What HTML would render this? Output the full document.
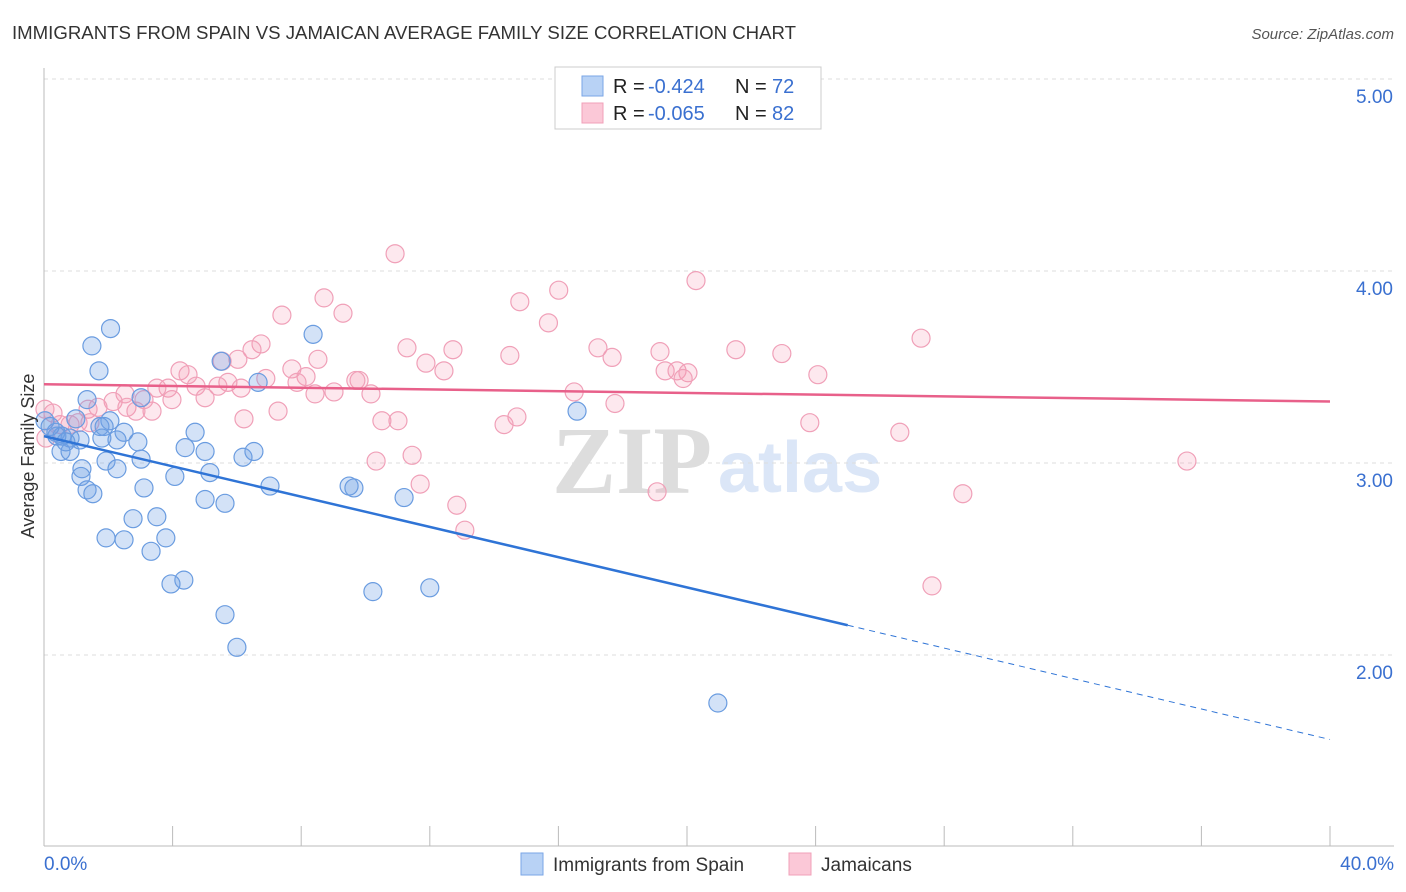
<!DOCTYPE html>
<html><head><meta charset="utf-8"><style>
body{margin:0;background:#fff;font-family:"Liberation Sans",sans-serif;}
svg{display:block}
</style></head><body>
<svg id="c" width="1406" height="892" xmlns="http://www.w3.org/2000/svg">
<text x="12" y="39" font-size="18" fill="#333" textLength="784" lengthAdjust="spacingAndGlyphs">IMMIGRANTS FROM SPAIN VS JAMAICAN AVERAGE FAMILY SIZE CORRELATION CHART</text>
<text x="1394" y="39" font-size="15" fill="#555" font-style="italic" text-anchor="end">Source: ZipAtlas.com</text>
<g>
<text x="552" y="493" font-size="96" fill="#ddd" font-family="Liberation Serif" font-weight="bold">ZIP</text>
<text x="718" y="492" font-size="72" fill="#dbe6f7" font-weight="bold">atlas</text>
</g>
<g id="grid"></g><g id="axes"></g><g id="pts"></g><g id="lines"></g>
<text transform="translate(34,456) rotate(-90)" font-size="18" fill="#333" text-anchor="middle">Average Family Size</text>
<g>
<rect x="555" y="67" width="266" height="62" fill="#fff" stroke="#ccc"/>
<rect x="582" y="76" width="21" height="20" fill="#b8d2f5" stroke="#7aa6e6"/>
<rect x="582" y="103" width="21" height="20" fill="#fbc8d7" stroke="#f0a0b8"/>
<g font-size="20">
<text x="613" y="93" fill="#222">R =</text><text x="648" y="93" fill="#3a70d0">-0.424</text>
<text x="735" y="93" fill="#222">N =</text><text x="772" y="93" fill="#3a70d0">72</text></g>
<g font-size="20">
<text x="613" y="120" fill="#222">R =</text><text x="648" y="120" fill="#3a70d0">-0.065</text>
<text x="735" y="120" fill="#222">N =</text><text x="772" y="120" fill="#3a70d0">82</text></g>
</g>
<g>
<rect x="521" y="853" width="22" height="22" fill="#b8d2f5" stroke="#7aa6e6"/>
<text x="553" y="871" font-size="19" fill="#333">Immigrants from Spain</text>
<rect x="789" y="853" width="22" height="22" fill="#fbc8d7" stroke="#f0a0b8"/>
<text x="821" y="871" font-size="19" fill="#333">Jamaicans</text>
</g>
</svg>
<script>
const yTicks=[5,4,3,2];
const yTickLabels=["5.00","4.00","3.00","2.00"];
const xTickLabels=["0.0%","40.0%"];
const blueX=[2.07,1.49,1.71,5.51,8.37,6.66,1.34,3.02,16.58,0.99,2.05,0.03,1.74,0.37,1.87,2.49,0.56,0.81,1.80,2.92,2.27,4.70,4.39,5.01,0.53,0.81,3.02,1.93,6.19,6.53,1.18,2.27,1.15,5.16,4.07,7.03,3.11,1.34,1.52,9.49,9.64,5.01,5.63,11.20,2.77,3.51,1.93,2.49,3.79,3.33,4.35,3.95,10.23,12.00,5.63,6.00,20.96,0.40,0.19,0.68,1.12];
const blueY=[3.70,3.61,3.48,3.53,3.67,3.42,3.33,3.34,3.27,3.23,3.22,3.22,3.19,3.16,3.19,3.16,3.14,3.13,3.13,3.11,3.12,3.16,3.08,3.06,3.06,3.06,3.02,3.01,3.03,3.06,2.97,2.97,2.93,2.95,2.93,2.88,2.87,2.86,2.84,2.88,2.87,2.81,2.79,2.82,2.71,2.72,2.61,2.60,2.61,2.54,2.39,2.37,2.33,2.35,2.21,2.04,1.75,3.14,3.19,3.11,3.12];
const pinkX=[10.92,8.71,14.80,16.01,20.28,9.30,7.40,15.69,27.28,6.75,6.47,11.29,12.72,17.23,14.49,17.67,19.16,21.52,22.95,8.52,6.03,11.88,12.44,4.23,5.54,7.71,4.48,8.15,19.32,19.69,20.03,19.88,24.07,9.80,9.70,7.87,6.90,3.86,4.73,3.51,5.72,5.41,6.13,9.02,10.17,8.43,5.01,2.52,3.98,16.49,3.11,2.15,1.68,2.58,3.36,7.28,2.86,1.37,0.28,1.06,6.22,11.01,10.51,14.71,14.31,23.82,26.62,17.76,11.45,10.33,35.55,19.07,28.58,11.70,12.84,13.09,27.62,0.03,0.50,0.81,1.43,0.06];
const pinkY=[4.09,3.86,3.84,3.90,3.95,3.78,3.77,3.73,3.65,3.62,3.59,3.60,3.59,3.60,3.56,3.55,3.58,3.59,3.57,3.54,3.54,3.52,3.48,3.48,3.53,3.49,3.46,3.45,3.48,3.48,3.47,3.44,3.46,3.43,3.43,3.42,3.44,3.39,3.40,3.39,3.42,3.40,3.39,3.37,3.36,3.36,3.34,3.36,3.33,3.37,3.33,3.32,3.29,3.29,3.27,3.27,3.27,3.28,3.26,3.21,3.23,3.22,3.22,3.24,3.20,3.21,3.16,3.31,3.04,3.01,3.01,2.85,2.84,2.89,2.78,2.65,2.36,3.28,3.20,3.20,3.21,3.13];
const blueFit=[3.14,2.155,1.56];const blueFitX=[0,25,40];
const pinkFit=[3.41,3.32];const pinkFitX=[0,40];
const NS="http://www.w3.org/2000/svg";
const X=v=>44+v*32.15, Y=v=>79+(5-v)*192;
function mk(t,a,p){const e=document.createElementNS(NS,t);for(const k in a)e.setAttribute(k,a[k]);p.appendChild(e);return e;}
const grid=document.getElementById('grid'),axes=document.getElementById('axes'),pts=document.getElementById('pts'),lines=document.getElementById('lines');
yTicks.forEach((t,i)=>{
 const l=mk('line',{x1:44,x2:1394,y1:Y(t),y2:Y(t),stroke:'#ddd','stroke-dasharray':'4,4'},grid);
 
 
 const tx=mk('text',{x:1393,y:Y(t)+24,'font-size':19,fill:'#3a70d0','text-anchor':'end'},axes);
 tx.textContent=yTickLabels[i];
 
 
});
const ya=mk('line',{x1:44,x2:44,y1:68,y2:846,stroke:'#bbb'},axes);


const xa=mk('line',{x1:44,x2:1394,y1:846,y2:846,stroke:'#bbb'},axes);


for(let i=0;i<=10;i++){const tk=mk('line',{x1:X(i*4),x2:X(i*4),y1:826,y2:846,stroke:'#bbb'},axes);
 
 }
[[0,'start',44],[40,'end',1394]].forEach((d,i)=>{const t=mk('text',{x:d[2],y:870,'font-size':19,fill:'#3a70d0','text-anchor':d[1]},axes);t.textContent=xTickLabels[i];
 
 });
pinkX.forEach((v,i)=>{const c=mk('circle',{cx:X(v),cy:Y(pinkY[i]),r:9,fill:'rgba(244,150,178,0.22)',stroke:'#f0a0b8','stroke-width':1.2},pts);
 
 });
blueX.forEach((v,i)=>{const c=mk('circle',{cx:X(v),cy:Y(blueY[i]),r:9,fill:'rgba(110,160,230,0.3)',stroke:'#6a9ce0','stroke-width':1.2},pts);
 
 });
const b1=mk('line',{x1:X(blueFitX[0]),y1:Y(blueFit[0]),x2:X(blueFitX[1]),y2:Y(blueFit[1]),stroke:'#2f74d6','stroke-width':2.5},lines);


const b2=mk('line',{x1:X(blueFitX[1]),y1:Y(blueFit[1]),x2:X(blueFitX[2]),y2:Y(blueFit[2]),stroke:'#2f74d6','stroke-width':1,'stroke-dasharray':'6,5'},lines);


const p1=mk('line',{x1:X(pinkFitX[0]),y1:Y(pinkFit[0]),x2:X(pinkFitX[1]),y2:Y(pinkFit[1]),stroke:'#e8608a','stroke-width':2.5},lines);


</script>
</body></html>
